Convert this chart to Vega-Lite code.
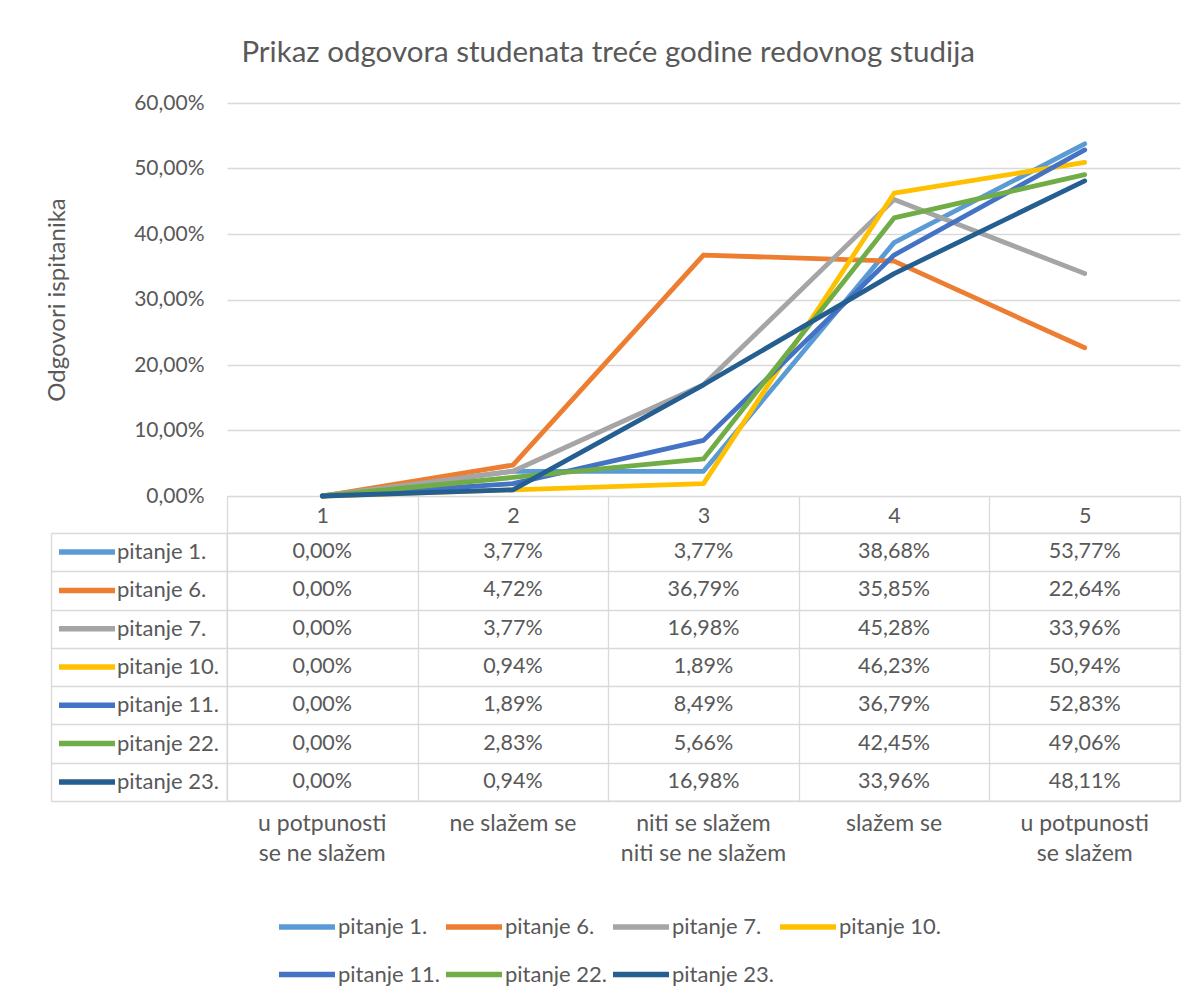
{
  "$schema": "https://vega.github.io/schema/vega-lite/v6.json",
  "background": "white",
  "padding": {"left": 45, "top": 38, "right": 5, "bottom": 5},
  "title": {"text": "Prikaz odgovora studenata treće godine redovnog studija", "fontSize": 29.5, "font": "Lato", "fontWeight": "normal", "color": "#595959", "anchor": "middle", "offset": 23.2, "dx": -5},
  "datasets": {
    "odg": [
      {"pitanje": "pitanje 1.", "k": "1", "v": 0}, {"pitanje": "pitanje 1.", "k": "2", "v": 0.0377}, {"pitanje": "pitanje 1.", "k": "3", "v": 0.0377}, {"pitanje": "pitanje 1.", "k": "4", "v": 0.3868}, {"pitanje": "pitanje 1.", "k": "5", "v": 0.5377},
      {"pitanje": "pitanje 6.", "k": "1", "v": 0}, {"pitanje": "pitanje 6.", "k": "2", "v": 0.0472}, {"pitanje": "pitanje 6.", "k": "3", "v": 0.3679}, {"pitanje": "pitanje 6.", "k": "4", "v": 0.3585}, {"pitanje": "pitanje 6.", "k": "5", "v": 0.2264},
      {"pitanje": "pitanje 7.", "k": "1", "v": 0}, {"pitanje": "pitanje 7.", "k": "2", "v": 0.0377}, {"pitanje": "pitanje 7.", "k": "3", "v": 0.1698}, {"pitanje": "pitanje 7.", "k": "4", "v": 0.4528}, {"pitanje": "pitanje 7.", "k": "5", "v": 0.3396},
      {"pitanje": "pitanje 10.", "k": "1", "v": 0}, {"pitanje": "pitanje 10.", "k": "2", "v": 0.0094}, {"pitanje": "pitanje 10.", "k": "3", "v": 0.0189}, {"pitanje": "pitanje 10.", "k": "4", "v": 0.4623}, {"pitanje": "pitanje 10.", "k": "5", "v": 0.5094},
      {"pitanje": "pitanje 11.", "k": "1", "v": 0}, {"pitanje": "pitanje 11.", "k": "2", "v": 0.0189}, {"pitanje": "pitanje 11.", "k": "3", "v": 0.0849}, {"pitanje": "pitanje 11.", "k": "4", "v": 0.3679}, {"pitanje": "pitanje 11.", "k": "5", "v": 0.5283},
      {"pitanje": "pitanje 22.", "k": "1", "v": 0}, {"pitanje": "pitanje 22.", "k": "2", "v": 0.0283}, {"pitanje": "pitanje 22.", "k": "3", "v": 0.0566}, {"pitanje": "pitanje 22.", "k": "4", "v": 0.4245}, {"pitanje": "pitanje 22.", "k": "5", "v": 0.4906},
      {"pitanje": "pitanje 23.", "k": "1", "v": 0}, {"pitanje": "pitanje 23.", "k": "2", "v": 0.0094}, {"pitanje": "pitanje 23.", "k": "3", "v": 0.1698}, {"pitanje": "pitanje 23.", "k": "4", "v": 0.3396}, {"pitanje": "pitanje 23.", "k": "5", "v": 0.4811}
    ],
    "kat": [
      {"k": "1", "opis": "u potpunosti\nse ne slažem"},
      {"k": "2", "opis": "ne slažem se"},
      {"k": "3", "opis": "niti se slažem\nniti se ne slažem"},
      {"k": "4", "opis": "slažem se"},
      {"k": "5", "opis": "u potpunosti\nse slažem"}
    ]
  },
  "bounds": "flush",
  "spacing": 37,
  "resolve": {"legend": {"color": "independent", "stroke": "independent"}},
  "vconcat": [
    {
      "width": 953,
      "height": 393,
      "data": {"name": "odg"},
      "mark": {"type": "line", "strokeWidth": 4.8, "strokeCap": "round", "strokeJoin": "round"},
      "encoding": {
        "x": {
          "field": "k", "type": "nominal", "bandPosition": 0.5,
          "scale": {"type": "band", "paddingInner": 0, "paddingOuter": 0},
          "axis": {"orient": "bottom", "title": null, "labelAngle": 0, "domain": false, "ticks": true, "tickBand": "extent", "tickSize": 37, "tickColor": "#D9D9D9", "tickWidth": 1.3, "labelPadding": -28, "labelFontSize": 21.5, "labelColor": "#595959", "grid": false}
        },
        "y": {
          "field": "v", "type": "quantitative",
          "scale": {"domain": [0, 0.6], "nice": false},
          "axis": {"values": [0, 0.1, 0.2, 0.3, 0.4, 0.5, 0.6], "format": ".2%", "title": "Odgovori ispitanika", "titleFontSize": 24, "titleFontWeight": "normal", "titleColor": "#595959", "titlePadding": 64, "labelFontSize": 21, "labelColor": "#595959", "labelPadding": 23, "ticks": false, "domain": false, "grid": true, "gridColor": "#D9D9D9", "gridWidth": 1.3}
        },
        "color": {
          "field": "pitanje", "type": "nominal",
          "scale": {"domain": ["pitanje 1.", "pitanje 6.", "pitanje 7.", "pitanje 10.", "pitanje 11.", "pitanje 22.", "pitanje 23."], "range": ["#5B9BD5", "#ED7D31", "#A5A5A5", "#FFC000", "#4472C4", "#70AD47", "#255E91"]},
          "legend": {"orient": "none", "legendX": 48, "legendY": 813, "direction": "horizontal", "columns": 4, "title": null, "symbolType": "M-1,0H7", "symbolSize": 196, "symbolStrokeWidth": 5.5, "labelFontSize": 22, "labelColor": "#595959", "labelOffset": 41, "columnPadding": -5, "rowPadding": 25.6, "padding": 0}
        }
      }
    },
    {
      "bounds": "flush",
      "spacing": 0,
      "resolve": {"legend": {"stroke": "independent"}},
      "vconcat": [
        {
          "width": 953,
          "height": 268,
          "view": {"stroke": "#D9D9D9", "strokeWidth": 1.3},
          "data": {"name": "odg"},
          "mark": {"type": "text", "fontSize": 21.5, "fill": "#595959", "strokeWidth": 0},
          "encoding": {
            "x": {
              "field": "k", "type": "nominal",
              "scale": {"type": "band", "paddingInner": 0, "paddingOuter": 0},
              "axis": {"title": null, "labels": false, "ticks": false, "domain": false, "grid": true, "tickBand": "extent", "gridColor": "#D9D9D9", "gridWidth": 1.3}
            },
            "y": {
              "field": "pitanje", "type": "nominal",
              "sort": ["pitanje 1.", "pitanje 6.", "pitanje 7.", "pitanje 10.", "pitanje 11.", "pitanje 22.", "pitanje 23."],
              "scale": {"type": "band", "paddingInner": 0, "paddingOuter": 0},
              "axis": {"orient": "left", "title": null, "labels": false, "domain": true, "domainColor": "#D9D9D9", "domainWidth": 1.3, "ticks": true, "tickBand": "extent", "tickSize": -176, "offset": 176, "tickColor": "#D9D9D9", "tickWidth": 1.3, "grid": true, "gridColor": "#D9D9D9", "gridWidth": 1.3}
            },
            "text": {"field": "v", "type": "quantitative", "format": ".2%"},
            "stroke": {
              "field": "pitanje", "type": "nominal",
              "scale": {"domain": ["pitanje 1.", "pitanje 6.", "pitanje 7.", "pitanje 10.", "pitanje 11.", "pitanje 22.", "pitanje 23."], "range": ["#5B9BD5", "#ED7D31", "#A5A5A5", "#FFC000", "#4472C4", "#70AD47", "#255E91"]},
              "legend": {"orient": "none", "legendX": -172, "legendY": 8.1, "direction": "vertical", "title": null, "symbolType": "M-1,0H7", "symbolSize": 196, "symbolStrokeWidth": 5.5, "symbolOpacity": 1, "labelFontSize": 22, "labelColor": "#595959", "labelOffset": 40, "rowPadding": 16.3, "padding": 0}
            }
          }
        },
        {
          "width": 953,
          "height": 59,
          "data": {"name": "kat"},
          "mark": {"type": "text", "fontSize": 23, "fill": "#595959", "lineBreak": "\n", "lineHeight": 30, "baseline": "alphabetic"},
          "encoding": {
            "x": {"field": "k", "type": "nominal", "scale": {"type": "band", "paddingInner": 0, "paddingOuter": 0}, "axis": null},
            "text": {"field": "opis"}
          }
        }
      ]
    }
  ],
  "config": {
    "font": "Lato",
    "view": {"stroke": null},
    "axis": {"labelFont": "Lato", "titleFont": "Lato"},
    "legend": {"labelFont": "Lato"},
    "locale": {"number": {"decimal": ",", "thousands": ".", "grouping": [3], "currency": ["", " €"]}}
  }
}
